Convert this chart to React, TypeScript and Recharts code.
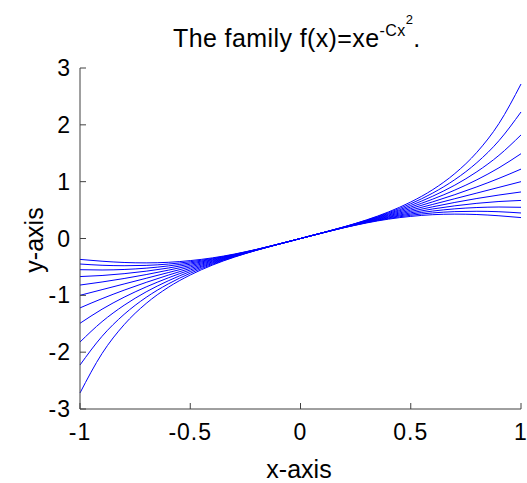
import { LineChart, Line, XAxis, YAxis } from 'recharts'

// x positions (step 0.1) and the family parameter C for each curve
const X_VALUES = [-1, -0.9, -0.8, -0.7, -0.6, -0.5, -0.4, -0.3, -0.2, -0.1, 0, 0.1, 0.2, 0.3, 0.4, 0.5, 0.6, 0.7, 0.8, 0.9, 1]
const C_LABELS = ['-1', '-0.8', '-0.6', '-0.4', '-0.2', '0', '0.2', '0.4', '0.6', '0.8', '1']

const Y_CM10 = [-2.718, -2.023, -1.517, -1.143, -0.86, -0.642, -0.469, -0.328, -0.208, -0.101, 0, 0.101, 0.208, 0.328, 0.469, 0.642, 0.86, 1.143, 1.517, 2.023, 2.718]
const Y_CM08 = [-2.226, -1.721, -1.335, -1.036, -0.8, -0.611, -0.455, -0.322, -0.207, -0.101, 0, 0.101, 0.207, 0.322, 0.455, 0.611, 0.8, 1.036, 1.335, 1.721, 2.226]
const Y_CM06 = [-1.822, -1.463, -1.175, -0.939, -0.745, -0.581, -0.44, -0.317, -0.205, -0.101, 0, 0.101, 0.205, 0.317, 0.44, 0.581, 0.745, 0.939, 1.175, 1.463, 1.822]
const Y_CM04 = [-1.492, -1.244, -1.033, -0.852, -0.693, -0.553, -0.426, -0.311, -0.203, -0.1, 0, 0.1, 0.203, 0.311, 0.426, 0.553, 0.693, 0.852, 1.033, 1.244, 1.492]
const Y_CM02 = [-1.221, -1.058, -0.909, -0.772, -0.645, -0.526, -0.413, -0.305, -0.202, -0.1, 0, 0.1, 0.202, 0.305, 0.413, 0.526, 0.645, 0.772, 0.909, 1.058, 1.221]
const Y_C00 = [-1, -0.9, -0.8, -0.7, -0.6, -0.5, -0.4, -0.3, -0.2, -0.1, 0, 0.1, 0.2, 0.3, 0.4, 0.5, 0.6, 0.7, 0.8, 0.9, 1]
const Y_C02 = [-0.819, -0.765, -0.704, -0.635, -0.558, -0.476, -0.387, -0.295, -0.198, -0.1, 0, 0.1, 0.198, 0.295, 0.387, 0.476, 0.558, 0.635, 0.704, 0.765, 0.819]
const Y_C04 = [-0.67, -0.651, -0.619, -0.575, -0.52, -0.452, -0.375, -0.289, -0.197, -0.1, 0, 0.1, 0.197, 0.289, 0.375, 0.452, 0.52, 0.575, 0.619, 0.651, 0.67]
const Y_C06 = [-0.549, -0.554, -0.545, -0.522, -0.483, -0.43, -0.363, -0.284, -0.195, -0.099, 0, 0.099, 0.195, 0.284, 0.363, 0.43, 0.483, 0.522, 0.545, 0.554, 0.549]
const Y_C08 = [-0.449, -0.471, -0.479, -0.473, -0.45, -0.409, -0.352, -0.279, -0.194, -0.099, 0, 0.099, 0.194, 0.279, 0.352, 0.409, 0.45, 0.473, 0.479, 0.471, 0.449]
const Y_C10 = [-0.368, -0.4, -0.422, -0.429, -0.419, -0.389, -0.341, -0.274, -0.192, -0.099, 0, 0.099, 0.192, 0.274, 0.341, 0.389, 0.419, 0.429, 0.422, 0.4, 0.368]

const SERIES = [Y_CM10, Y_CM08, Y_CM06, Y_CM04, Y_CM02, Y_C00, Y_C02, Y_C04, Y_C06, Y_C08, Y_C10]

const X_TICKS = [-1, -0.5, 0, 0.5, 1]
const Y_TICKS = [-3, -2, -1, 0, 1, 2, 3]

const data = X_VALUES.map((x, i) => {
  const row: Record<string, number> = { x }
  SERIES.forEach((s, k) => { row['c' + k] = s[i] })
  return row
})

const FONT = '"Liberation Sans", Arial, Helvetica, sans-serif'
const AXIS = '#404040'

function XTick(props: any) {
  const { x, y, payload } = props
  return (
    <g>
      <line x1={x} y1={y} x2={x} y2={y - 6} stroke={AXIS} />
      <text x={x} y={y + 31} textAnchor="middle" fontSize={23} letterSpacing={1} fontFamily={FONT} fill="#000">
        {payload.value}
      </text>
    </g>
  )
}

function YTick(props: any) {
  const { x, y, payload } = props
  return (
    <g>
      <line x1={x} y1={y} x2={x + 6} y2={y} stroke={AXIS} />
      <text x={x - 9} y={y + 8} textAnchor="end" fontSize={23} letterSpacing={1} fontFamily={FONT} fill="#000">
        {payload.value}
      </text>
    </g>
  )
}

export default function App() {
  return (
    <div style={{ position: 'absolute', left: 0, top: 0, width: 527, height: 483, background: '#fff' }}>
      <LineChart width={527} height={483} data={data} margin={{ top: 68, right: 6, left: 0, bottom: 0 }}>
        <XAxis dataKey="x" type="number" domain={[-1, 1]} ticks={X_TICKS} height={74}
          tickSize={0} tickMargin={0} tick={<XTick />} axisLine={{ stroke: AXIS }} interval={0} />
        <YAxis type="number" domain={[-3, 3]} ticks={Y_TICKS} width={80}
          tickSize={0} tickMargin={0} tick={<YTick />} axisLine={{ stroke: AXIS }} interval={0} />
        {C_LABELS.map((c, k) => (
          <Line key={c} name={'C=' + c} dataKey={'c' + k} type="monotone" stroke="#0000ff"
            strokeWidth={1} dot={false} isAnimationActive={false} />
        ))}
      </LineChart>
      <svg width={527} height={483} style={{ position: 'absolute', left: 0, top: 0, pointerEvents: 'none' }}>
        <text x={173} y={47} fontSize={25} letterSpacing={0.4} fontFamily={FONT} fill="#000">
          The family f(x)=xe
          <tspan dy={-11} fontSize={16}>-Cx</tspan>
          <tspan dy={-12} fontSize={13}>2</tspan>
          <tspan dy={23} fontSize={25}>.</tspan>
        </text>
        <text x={299} y={478} textAnchor="middle" fontSize={25} fontFamily={FONT} fill="#000">x-axis</text>
        <text x={43} y={240} textAnchor="middle" fontSize={25} fontFamily={FONT} fill="#000"
          transform="rotate(-90 43 240)">y-axis</text>
      </svg>
    </div>
  )
}
